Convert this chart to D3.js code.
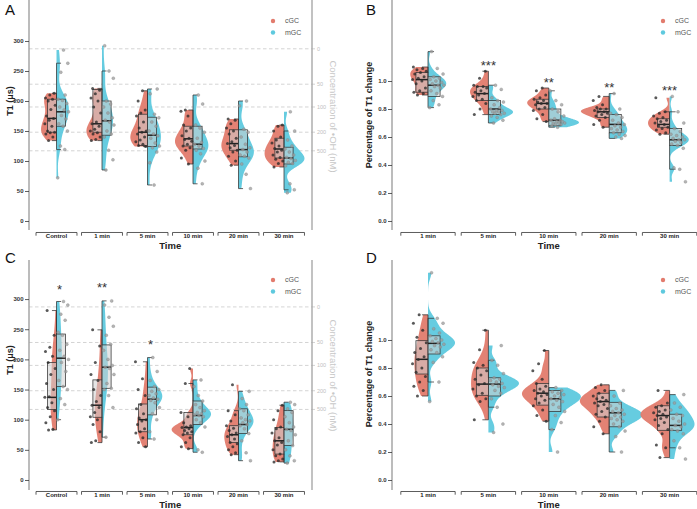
<!DOCTYPE html>
<html><head><meta charset="utf-8">
<script src="https://cdn.jsdelivr.net/npm/d3@7"></script>
<style>body{margin:0;background:#fff}svg{display:block}text{font-family:Arial,"Liberation Sans",sans-serif}</style>
</head><body><svg id="c" width="697" height="509"></svg>
<script>
// ---------------- DATA ----------------
const catsAC = ["Control","1 min","5 min","10 min","20 min","30 min"];
const catsBD = ["1 min","5 min","10 min","20 min","30 min"];
const seriesNames = ["cGC","mGC"];
const ticksT1 = [0,50,100,150,200,250,300];
const ticksPct = [0,0.2,0.4,0.6,0.8,1.0];
const ohConc = ["0","50","100","200","500"];
const ohT1 = [287,228,190,148,117];

// box stats: [lower whisker, Q1, median, Q3, upper whisker]
const boxA_cGC = [[134,148,171,203,213],[134,148,162,219,221],[124,126,148,178,217],[95,125,137,158,185],[93,118,129,152,170],[90,105,120,138,160]];
const boxA_mGC = [[119,158,182,203,263],[85,143,167,200,250],[60,124,143,173,220],[62,120,128,158,210],[54,107,119,152,200],[52,95,105,123,150]];
const ptsA_cGC = [
 [134,140,145,147,148,150,158,162,168,171,175,186,193,200,203,205,210,213],
 [134,136,140,145,147,150,153,158,162,165,180,190,200,205,212,218,221],
 [124,126,128,132,135,140,145,148,150,155,165,175,180,185,200,217],
 [95,105,118,122,125,128,133,136,138,142,150,155,160,175,183,185],
 [93,100,108,115,118,122,126,129,132,138,145,150,155,162,168,170],
 [90,96,100,103,106,110,115,118,121,125,130,135,140,150,158,160]];
const ptsA_mGC = [
 [72,119,125,150,158,162,170,176,182,185,190,196,201,203,210,248,263,285],
 [85,102,118,140,145,150,160,165,168,172,180,190,195,200,238,250,292],
 [60,97,115,122,125,130,138,142,145,150,158,165,172,178,212,220],
 [62,88,100,112,118,121,125,128,131,138,148,155,160,195,210],
 [54,78,95,105,108,110,115,119,122,128,140,148,153,192,200],
 [47,52,62,92,96,98,101,104,106,110,115,120,125,135,150,182]];

const boxB_cGC = [[0.90,0.92,1.01,1.06,1.10],[0.76,0.86,0.91,0.96,1.07],[0.71,0.80,0.84,0.87,0.95],[0.67,0.74,0.78,0.80,0.89],[0.62,0.67,0.69,0.73,0.78]];
const boxB_mGC = [[0.81,0.89,0.97,1.03,1.21],[0.70,0.76,0.80,0.86,0.97],[0.67,0.68,0.72,0.80,0.93],[0.59,0.63,0.69,0.76,0.91],[0.37,0.54,0.58,0.66,0.78]];
const ptsB_cGC = [
 [0.90,0.91,0.92,0.93,0.95,0.98,1.00,1.01,1.02,1.03,1.05,1.06,1.07,1.08,1.09,1.10],
 [0.76,0.80,0.84,0.86,0.87,0.89,0.90,0.91,0.92,0.93,0.95,0.96,0.96,0.97,1.02,1.07],
 [0.71,0.73,0.76,0.79,0.80,0.81,0.83,0.84,0.84,0.85,0.86,0.87,0.88,0.90,0.93,0.95],
 [0.67,0.69,0.72,0.74,0.75,0.76,0.77,0.78,0.78,0.79,0.80,0.80,0.81,0.83,0.86,0.89],
 [0.62,0.63,0.65,0.66,0.67,0.68,0.69,0.70,0.71,0.72,0.73,0.74,0.75,0.77,0.78,0.88]];
const ptsB_mGC = [
 [0.81,0.83,0.86,0.89,0.91,0.93,0.95,0.96,0.97,0.97,0.98,0.99,1.00,1.01,1.02,1.03,1.05,1.09,1.21],
 [0.70,0.72,0.74,0.75,0.76,0.77,0.77,0.78,0.78,0.79,0.79,0.80,0.81,0.83,0.85,0.86,0.88,0.94,0.97],
 [0.67,0.68,0.69,0.69,0.70,0.70,0.70,0.71,0.71,0.72,0.72,0.73,0.75,0.78,0.80,0.83,0.86,0.93],
 [0.59,0.60,0.61,0.62,0.63,0.64,0.65,0.66,0.67,0.68,0.69,0.70,0.72,0.74,0.76,0.77,0.80,0.91],
 [0.28,0.37,0.38,0.52,0.54,0.55,0.56,0.57,0.58,0.58,0.59,0.60,0.61,0.62,0.64,0.66,0.70,0.78,0.89]];
const starsB = ["","***","**","**","***"];
const starsB_at = [null,1.126,1.007,0.971,0.948];

const boxC_cGC = [[83,117,137,195,281],[62,104,124,166,249],[55,80,100,126,196],[52,75,87,112,160],[42,62,75,90,115],[30,43,65,87,124]];
const boxC_mGC = [[100,155,202,242,296],[71,152,187,224,297],[68,108,134,154,203],[46,92,107,131,166],[32,77,92,118,147],[28,57,84,115,129]];
const ptsC_cGC = [
 [83,84,95,105,115,120,128,137,138,150,160,175,185,195,205,213,220,240,281],
 [62,65,80,92,100,105,112,120,124,130,140,150,165,175,195,222,249],
 [55,62,70,78,80,85,92,98,100,103,110,118,125,140,150,168,196],
 [52,55,62,70,75,78,80,82,85,87,88,90,95,105,112,160,185],
 [42,45,50,55,60,62,68,72,75,78,82,86,90,98,108,115,158],
 [30,32,35,40,43,50,58,62,65,70,78,85,88,100,115,124]];
const ptsC_mGC = [
 [100,125,135,150,155,165,180,195,200,205,215,225,240,245,265,275,290,296],
 [71,120,140,150,152,160,175,185,187,190,200,215,225,240,255,270,290,297],
 [68,80,100,110,120,128,132,134,136,140,143,147,150,155,165,180,203],
 [46,50,88,95,100,105,107,108,110,112,115,120,125,131,140,155,166],
 [32,45,65,77,85,90,92,95,98,100,103,108,115,118,125,135,147],
 [28,32,40,50,57,65,75,82,84,88,95,105,112,118,125,129]];
const starsC = ["*","**","*","","",""];
const starsC_at = [320,323,228,null,null,null];

const boxD_cGC = [[0.60,0.757,0.862,0.995,1.18],[0.43,0.605,0.685,0.80,1.07],[0.42,0.535,0.62,0.69,0.925],[0.33,0.45,0.56,0.62,0.68],[0.16,0.355,0.46,0.53,0.64]];
const boxD_mGC = [[0.70,0.90,0.976,1.03,1.155],[0.52,0.60,0.685,0.73,0.855],[0.36,0.49,0.58,0.64,0.66],[0.20,0.38,0.48,0.555,0.64],[0.23,0.355,0.39,0.47,0.61]];
const ptsD_cGC = [
 [0.60,0.64,0.67,0.70,0.74,0.77,0.80,0.83,0.86,0.88,0.91,0.94,0.98,1.02,1.07,1.12,1.18],
 [0.43,0.56,0.58,0.60,0.62,0.65,0.68,0.69,0.72,0.75,0.78,0.80,0.82,0.84,0.93,1.07],
 [0.42,0.46,0.50,0.53,0.55,0.57,0.58,0.60,0.61,0.62,0.63,0.64,0.65,0.67,0.69,0.72,0.78,0.83,0.925],
 [0.33,0.38,0.42,0.45,0.47,0.49,0.51,0.53,0.54,0.55,0.56,0.57,0.58,0.59,0.60,0.62,0.64,0.66,0.68],
 [0.16,0.23,0.25,0.33,0.36,0.39,0.41,0.43,0.44,0.45,0.46,0.47,0.48,0.49,0.50,0.52,0.53,0.55,0.64]];
const ptsD_mGC = [
 [0.56,0.70,0.84,0.88,0.91,0.93,0.95,0.96,0.97,0.98,0.99,1.00,1.01,1.03,1.05,1.08,1.12,1.155,1.48],
 [0.34,0.40,0.52,0.58,0.62,0.64,0.66,0.67,0.68,0.69,0.70,0.71,0.72,0.73,0.76,0.82,0.855,0.96],
 [0.20,0.36,0.41,0.46,0.49,0.52,0.54,0.56,0.57,0.58,0.59,0.60,0.61,0.62,0.63,0.64,0.66],
 [0.20,0.31,0.35,0.38,0.40,0.42,0.43,0.44,0.45,0.46,0.47,0.48,0.49,0.50,0.51,0.53,0.55,0.60,0.64],
 [0.15,0.23,0.28,0.33,0.35,0.36,0.38,0.39,0.40,0.42,0.44,0.46,0.47,0.50,0.52,0.55,0.61]];

// ---------------- STYLE / LAYOUT ----------------
const COL = {cGC:"#E27B6D", mGC:"#5EC9DE"};
const svg = d3.select("#c");

const panels = [
 {letter:"A", lx:5, ly:15, cats:catsAC, box:[boxA_cGC,boxA_mGC], pts:[ptsA_cGC,ptsA_mGC],
  xr:[33.75,306.75], yd:[-15,368.33], yr:[230,0], ticks:ticksT1, fmt:d3.format("d"), vw:0.45,
  ytitle:"T1 (μs)", ytx:10, oh:true, leftX:29, rightX:312, stars:null, legX:273},
 {letter:"B", lx:366, ly:15, cats:catsBD, box:[boxB_cGC,boxB_mGC], pts:[ptsB_cGC,ptsB_mGC],
  xr:[397.8,699.8], yd:[-0.0643,1.5786], yr:[230,0], ticks:ticksPct, fmt:d3.format(".1f"), vw:0.5,
  ytitle:"Percentage of T1 change", ytx:369, oh:false, leftX:392, stars:[starsB,starsB_at], legX:663},
 {letter:"C", lx:5, ly:263, cats:catsAC, box:[boxC_cGC,boxC_mGC], pts:[ptsC_cGC,ptsC_mGC],
  xr:[33.75,306.75], yd:[-16.6,364.8], yr:[490,260], ticks:ticksT1, fmt:d3.format("d"), vw:0.47,
  ytitle:"T1 (μs)", ytx:10, oh:true, leftX:29, rightX:312, stars:[starsC,starsC_at], legX:273},
 {letter:"D", lx:366, ly:263, cats:catsBD, box:[boxD_cGC,boxD_mGC], pts:[ptsD_cGC,ptsD_mGC],
  xr:[397.8,699.8], yd:[-0.0714,1.5714], yr:[490,260], ticks:ticksPct, fmt:d3.format(".1f"), vw:0.55,
  ytitle:"Percentage of T1 change", ytx:369, oh:false, leftX:392, stars:null, legX:663}
];

function kde(arr){
  const a = arr.slice().sort(d3.ascending), n = a.length;
  const sd = d3.deviation(a), iqr = d3.quantile(a,.75)-d3.quantile(a,.25);
  let lo = Math.min(sd, iqr/1.34); if(!(lo>0)) lo = sd || 1;
  const h = 0.9*lo*Math.pow(n,-0.2);
  const mn = a[0], mx = a[n-1], N = 200;
  return d3.range(N+1).map(i=>{
    const t = mn+(mx-mn)*i/N; let s = 0;
    for(const v of a){const z=(t-v)/h; s+=Math.exp(-0.5*z*z);}
    return [t, s/(n*h*Math.sqrt(2*Math.PI))];
  });
}

panels.forEach(p=>{
  const g = svg.append("g");
  const x = d3.scaleBand().domain(p.cats).range(p.xr);
  const y = d3.scaleLinear().domain(p.yd).range(p.yr);
  const band = x.bandwidth();
  const y0 = y(0);
  const cx = c => x(c)+band/2;

  if(p.oh){
    ohT1.forEach((v,i)=>{
      g.append("line").attr("x1",p.leftX).attr("x2",p.rightX).attr("y1",y(v)).attr("y2",y(v))
        .attr("stroke","#cfcfcf").attr("stroke-width",0.9).attr("stroke-dasharray","3.5,2.5");
      g.append("line").attr("x1",p.rightX).attr("x2",p.rightX+3).attr("y1",y(v)).attr("y2",y(v))
        .attr("stroke","#c8c8c8").attr("stroke-width",0.8);
      g.append("text").attr("x",p.rightX+5).attr("y",y(v)).attr("dy","0.35em")
        .attr("font-size",5.5).attr("fill","#c0c0c0").text(ohConc[i]);
    });
    g.append("line").attr("x1",p.rightX).attr("x2",p.rightX).attr("y1",p.yr[1]).attr("y2",p.yr[0])
      .attr("stroke","#a8a8a8").attr("stroke-width",1.4);
    g.append("text").attr("transform",`translate(${p.rightX+18},${y0-104.5}) rotate(90)`)
      .attr("text-anchor","middle").attr("font-size",9.5).attr("fill","#c8c8c8")
      .text("Concentration of •OH (nM)");
  }

  g.append("line").attr("x1",p.leftX).attr("x2",p.leftX).attr("y1",p.yr[1]).attr("y2",p.yr[0])
    .attr("stroke","#a0a0a0").attr("stroke-width",1.4);
  const ax = g.append("g").attr("transform",`translate(${p.leftX},0)`)
    .call(d3.axisLeft(y).tickValues(p.ticks).tickFormat(p.fmt).tickSize(4).tickSizeOuter(0));
  ax.select(".domain").remove();
  ax.selectAll(".tick line").attr("stroke","#333").attr("stroke-width",0.8);
  ax.selectAll(".tick text").attr("font-size",6).attr("font-weight","bold").attr("fill","#333")
    .attr("font-family","Arial,'Liberation Sans',sans-serif").attr("x",-5.5);

  g.append("text").attr("transform",`translate(${p.ytx+3},${y0-(p.oh?120:106)}) rotate(-90)`)
    .attr("text-anchor","middle").attr("font-size",9).attr("font-weight","bold").attr("fill","#222")
    .text(p.ytitle);

  const by = y0+11.5;
  p.cats.forEach(c=>{
    const xa = cx(c)-band*0.45, xb = cx(c)+band*0.45;
    g.append("path").attr("d",`M${xa},${by+3.2}V${by}H${xb}V${by+3.2}`)
      .attr("fill","none").attr("stroke","#333").attr("stroke-width",0.8);
    g.append("text").attr("x",cx(c)).attr("y",by+5.8).attr("text-anchor","middle")
      .attr("font-size",6).attr("font-weight","bold").attr("fill","#222").text(c);
  });
  g.append("text").attr("x",(p.xr[0]+p.xr[1])/2).attr("y",y0+27.8).attr("text-anchor","middle")
    .attr("font-size",9.5).attr("font-weight","bold").attr("fill","#222").text("Time");

  const dens = p.pts.map(ser=>ser.map(kde));
  const maxD = d3.max(dens.flat(), d=>d3.max(d, e=>e[1]));
  const maxW = band*p.vw;
  p.cats.forEach((c,ci)=>{
    [0,1].forEach(s=>{
      const sg = s===0?-1:1;
      const area = d3.area().x0(cx(c)).x1(d=>cx(c)+sg*d[1]/maxD*maxW).y(d=>y(d[0]));
      g.append("path").attr("d",area(dens[s][ci])).attr("fill",COL[seriesNames[s]]).attr("fill-opacity",0.95);
    });
  });

  const bw = band*0.2;
  p.cats.forEach((c,ci)=>{
    [0,1].forEach(s=>{
      const sg = s===0?-1:1;
      const [lo,q1,md,q3,hi] = p.box[s][ci];
      const X = cx(c);
      g.append("rect").attr("x",sg<0?X-bw:X).attr("width",bw).attr("y",y(q3)).attr("height",y(q1)-y(q3))
        .attr("fill","#d0d0d0").attr("fill-opacity",0.55).attr("stroke","#333").attr("stroke-width",0.75);
      g.append("line").attr("x1",X).attr("x2",X).attr("y1",y(hi)).attr("y2",y(q3)).attr("stroke","#333").attr("stroke-width",0.75);
      g.append("line").attr("x1",X).attr("x2",X).attr("y1",y(q1)).attr("y2",y(lo)).attr("stroke","#333").attr("stroke-width",0.75);
      [lo,hi].forEach(v=>g.append("line").attr("x1",X).attr("x2",X+sg*bw*0.5).attr("y1",y(v)).attr("y2",y(v))
        .attr("stroke","#333").attr("stroke-width",0.75));
      g.append("line").attr("x1",X).attr("x2",X+sg*bw).attr("y1",y(md)).attr("y2",y(md))
        .attr("stroke","#222").attr("stroke-width",1.5);
    });
  });

  p.cats.forEach((c,ci)=>{
    [0,1].forEach(s=>{
      const sg = s===0?-1:1;
      p.pts[s][ci].forEach((v,i)=>{
        const u = ((i+1)*0.6180339 + ci*0.2357 + s*0.41)%1;
        g.append("circle").attr("cx",cx(c)+sg*bw*(0.1+1.25*u)).attr("cy",y(v)).attr("r",1.5)
          .attr("fill",s===0?"#2a2a2a":"#9c9c9c").attr("fill-opacity",s===0?0.78:0.75)
          .attr("stroke",s===0?"none":"#7a7a7a").attr("stroke-width",0.3);
      });
    });
  });

  if(p.stars){
    p.cats.forEach((c,ci)=>{
      const lab = p.stars[0][ci]; if(!lab) return;
      g.append("text").attr("x",cx(c)+(lab.length===1?3:0)).attr("y",y(p.stars[1][ci])+7)
        .attr("text-anchor","middle").attr("font-size",13).attr("fill","#333").text(lab);
    });
  }

  seriesNames.forEach((nm,i)=>{
    const ly = y0-200+i*11.5;
    g.append("circle").attr("cx",p.legX).attr("cy",ly).attr("r",2.2).attr("fill",COL[nm]);
    g.append("text").attr("x",p.legX+12).attr("y",ly).attr("dy","0.35em").attr("font-size",7)
      .attr("fill","#555").text(nm);
  });

  g.append("text").attr("x",p.lx).attr("y",p.ly).attr("font-size",15).attr("fill","#111").text(p.letter);
});
</script></body></html>
